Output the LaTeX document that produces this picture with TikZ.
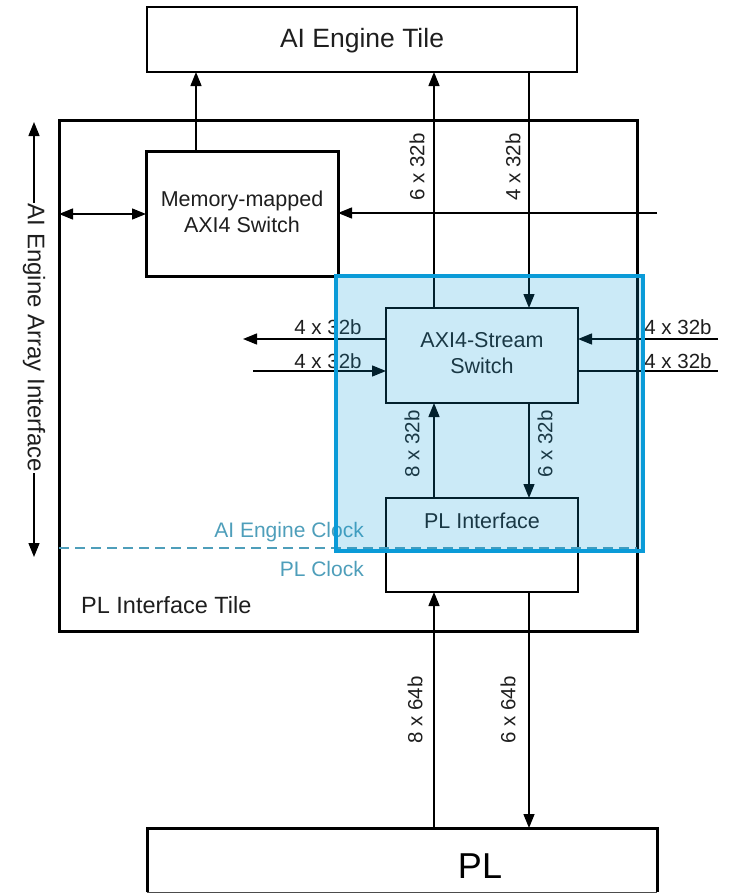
\documentclass[tikz,border=0pt]{standalone}
\usepackage{fontspec}
\setmainfont{Liberation Sans}
\usetikzlibrary{arrows.meta}
\definecolor{hlblue}{RGB}{10,155,216}
\definecolor{clockc}{RGB}{78,158,186}
\definecolor{ink}{RGB}{30,30,30}
\begin{document}
\begin{tikzpicture}[x=1pt,y=-1pt,
  box/.style={draw=black,line width=2.6pt,inner sep=0pt,outer sep=0pt},
  conn/.style={line width=1.4pt,draw=black},
  tip/.style={-{Triangle[length=14pt,width=11pt]}},
  dtip/.style={{Triangle[length=14pt,width=11pt]}-{Triangle[length=14pt,width=11pt]}},
  lbl/.style={inner sep=0pt,text=ink,font=\fontsize{20.5}{24}\selectfont},
  vlbl/.style={lbl,rotate=90},
  txt/.style={inner sep=0pt,text=ink},
]
\useasboundingbox (0,0) rectangle (729,894);

% boxes
\node[box,minimum width=430,minimum height=65] (aie) at (362,39.5) {};
\node[box,line width=3pt,minimum width=578,minimum height=511] (tile) at (348,375.5) {};
\node[box,line width=3pt,minimum width=192,minimum height=125] (mem) at (242,213.5) {};
\node[box,minimum width=192,minimum height=95] (sw) at (482,355.5) {};
\node[box,minimum width=192,minimum height=94] (pli) at (482,545) {};
\node[inner sep=0pt,outer sep=0pt,minimum width=510,minimum height=64] (pl) at (402,860) {};
\draw[line width=3pt] (pl.south west) -- (pl.north west) -- (pl.north east) -- (pl.south east);
\draw[line width=1pt,draw=black!70] (pl.south west) -- (pl.south east);

% texts
\node[txt,anchor=base,font=\fontsize{26.5}{30}\selectfont] (aietxt) at (362,47) {AI Engine Tile};
\node[txt,anchor=base,font=\fontsize{21.5}{25}\selectfont] (memtxt1) at (242,206) {Memory-mapped};
\node[txt,anchor=base,font=\fontsize{21.5}{25}\selectfont] (memtxt2) at (242,232) {AXI4 Switch};
\node[txt,anchor=base,font=\fontsize{21.5}{25}\selectfont] (swtxt1) at (482,347) {AXI4-Stream};
\node[txt,anchor=base,font=\fontsize{21.5}{25}\selectfont] (swtxt2) at (482,373) {Switch};
\node[txt,anchor=base,font=\fontsize{21.5}{25}\selectfont] (plitxt) at (482,528) {PL Interface};
\node[txt,anchor=base,text=black,font=\fontsize{36}{40}\selectfont] (pltxt) at (480,878) {PL};
\node[txt,anchor=base west,font=\fontsize{23.5}{27}\selectfont] (tiletxt) at (81,613) {PL Interface Tile};
\node[txt,anchor=base east,text=clockc,font=\fontsize{21}{25}\selectfont] (aiclk) at (364,537) {AI Engine Clock};
\node[txt,anchor=base east,text=clockc,font=\fontsize{21}{25}\selectfont] (plclk) at (364,576) {PL Clock};

% coordinates
\coordinate (cM) at (196,0);
\coordinate (cA) at (434,0);
\coordinate (cB) at (529,0);
\coordinate (rowM) at (0,214);
\coordinate (memin) at (657,213);
\coordinate (lout) at (243,339);
\coordinate (lin) at (253,371);
\coordinate (rin) at (718,339);
\coordinate (rout) at (718,371);
\coordinate (vt) at (34,122);
\coordinate (vb) at (34,557);
\coordinate (dl) at (59,548);
\coordinate (dr) at (637,548);

% connectors
\draw[conn,tip] (cM |- mem.north) -- (cM |- aie.south);
\draw[conn,dtip] (tile.west |- rowM) -- (mem.west |- rowM);
\draw[conn,tip] (memin) -- (memin -| mem.east);
\draw[conn,tip] (cA |- sw.north) -- (cA |- aie.south);
\draw[conn,tip] (cB |- aie.south) -- (cB |- sw.north);
\draw[conn,tip] (sw.west |- lout) -- (lout);
\draw[conn,tip] (lin) -- (lin -| sw.west);
\draw[conn,tip] (rin) -- (rin -| sw.east);
\draw[conn] (rout -| sw.east) -- (rout);
\draw[conn,tip] (cA |- pli.north) -- (cA |- sw.south);
\draw[conn,tip] (cB |- sw.south) -- (cB |- pli.north);
\draw[conn,tip] (cA |- pl.north) -- (cA |- pli.south);
\draw[conn,tip] (cB |- pli.south) -- (cB |- pl.north);
\draw[conn,dtip] (vt) -- (vb);
\draw[clockc,line width=1.3pt,dash pattern=on 10pt off 6pt] (dl) -- (dr);

% labels
\node[vlbl] (l1) at (417,167) {6 x 32b};
\node[vlbl] (l2) at (513,167) {4 x 32b};
\node[vlbl] (l3) at (412,444) {8 x 32b};
\node[vlbl] (l4) at (545,444) {6 x 32b};
\node[vlbl] (l5) at (415,710) {8 x 64b};
\node[vlbl] (l6) at (508,710) {6 x 64b};
\node[lbl,anchor=base] (l7) at (328,334) {4 x 32b};
\node[lbl,anchor=base] (l8) at (328,368) {4 x 32b};
\node[lbl,anchor=base] (l9) at (678,334) {4 x 32b};
\node[lbl,anchor=base] (l10) at (678,368) {4 x 32b};
\node[txt,rotate=-90,fill=white,inner sep=1pt,font=\fontsize{24}{28}\selectfont] (arr) at (34,338) {AI Engine Array Interface};

% highlight overlay
\node[draw=hlblue,fill=hlblue,fill opacity=0.21,draw opacity=1,line width=3.5pt,inner sep=0pt,minimum width=307,minimum height=275] (hl) at (489.5,413.5) {};
\end{tikzpicture}
\end{document}
